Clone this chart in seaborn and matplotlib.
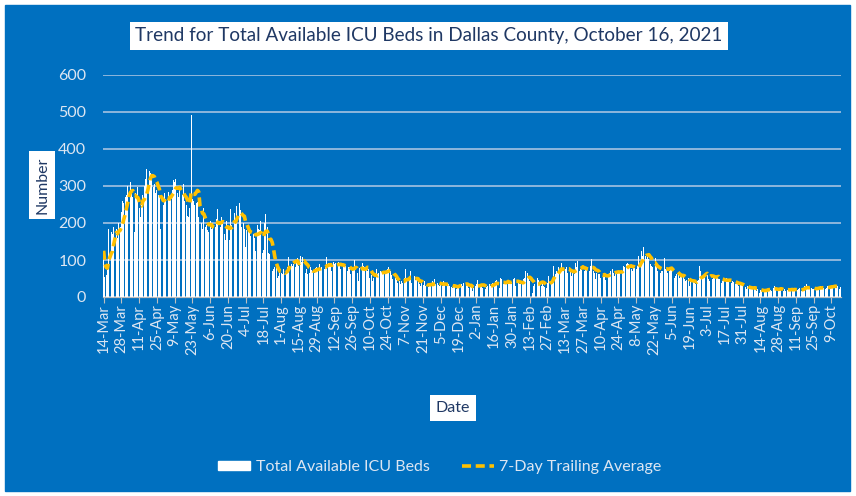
import pandas as pd
import seaborn as sns
import matplotlib.pyplot as plt
from matplotlib.patches import Rectangle, Patch
from matplotlib.lines import Line2D

start_date = "2020-03-14"
title = "Trend for Total Available ICU Beds in Dallas County, October 16, 2021"
bar_label = "Total Available ICU Beds"
avg_label = "7-Day Trailing Average"

# daily available ICU beds, one row = two weeks (row start date in comment)
icu_beds = [
    125, 55, 60, 72, 185, 150, 175, 170, 190, 165, 185, 160, 200, 190,  # 14-Mar-20
    230, 260, 255, 270, 275, 300, 305, 310, 285, 270, 175, 280, 265, 297,  # 28-Mar
    240, 215, 250, 275, 300, 320, 347, 330, 340, 335, 325, 296, 305, 280,  # 11-Apr
    290, 275, 270, 185, 275, 250, 280, 265, 260, 285, 270, 275, 290, 315,  # 25-Apr
    310, 320, 280, 270, 290, 242, 275, 305, 260, 250, 220, 216, 240, 491,  # 9-May
    265, 260, 250, 255, 256, 215, 222, 200, 185, 240, 190, 195, 180, 175,  # 23-May
    205, 185, 200, 190, 188, 210, 239, 180, 190, 215, 205, 170, 155, 205,  # 6-Jun
    190, 155, 239, 195, 210, 228, 200, 245, 220, 253, 235, 190, 200, 185,  # 20-Jun
    135, 180, 190, 175, 165, 190, 170, 160, 125, 195, 185, 180, 205, 120,  # 4-Jul
    128, 200, 225, 190, 120, 115, 110, 70, 75, 80, 85, 52, 58, 67,  # 18-Jul
    66, 63, 75, 70, 66, 80, 107, 134, 90, 84, 89, 80, 98, 105,  # 1-Aug
    84, 111, 95, 107, 89, 66, 75, 63, 66, 80, 72, 70, 66, 78,  # 15-Aug
    80, 75, 89, 75, 82, 84, 75, 80, 107, 92, 89, 84, 70, 95,  # 29-Aug
    89, 93, 88, 95, 84, 75, 84, 90, 80, 84, 71, 82, 80, 61,  # 12-Sep
    71, 80, 101, 85, 66, 43, 78, 80, 93, 84, 80, 76, 71, 75,  # 26-Sep
    52, 60, 43, 52, 57, 75, 61, 66, 71, 68, 61, 66, 71, 70,  # 10-Oct
    75, 80, 71, 60, 48, 34, 52, 45, 39, 43, 34, 42, 39, 52,  # 24-Oct
    75, 43, 45, 48, 71, 39, 43, 57, 45, 48, 43, 34, 30, 40,  # 7-Nov
    32, 43, 30, 25, 28, 34, 39, 43, 36, 48, 34, 39, 33, 30,  # 21-Nov
    34, 30, 43, 38, 34, 30, 34, 30, 28, 25, 30, 34, 21, 28,  # 5-Dec
    30, 43, 35, 30, 39, 34, 34, 30, 25, 28, 30, 16, 25, 30,  # 19-Dec
    34, 46, 30, 34, 28, 25, 30, 21, 28, 30, 34, 30, 35, 39,  # 2-Jan-21
    34, 43, 45, 30, 25, 52, 48, 34, 43, 39, 34, 45, 39, 43,  # 16-Jan
    40, 48, 52, 30, 45, 39, 34, 34, 39, 48, 52, 71, 66, 55,  # 30-Jan
    43, 21, 12, 30, 34, 48, 52, 45, 34, 30, 39, 30, 28, 25,  # 13-Feb
    39, 57, 48, 43, 52, 84, 62, 71, 66, 80, 75, 93, 75, 71,  # 27-Feb
    75, 80, 66, 75, 70, 57, 66, 61, 93, 80, 97, 71, 75, 72,  # 13-Mar
    84, 71, 80, 78, 75, 71, 84, 102, 70, 66, 48, 66, 62, 61,  # 27-Mar
    52, 57, 62, 66, 46, 57, 60, 66, 71, 75, 65, 57, 71, 66,  # 10-Apr
    71, 68, 75, 66, 84, 80, 88, 93, 88, 82, 75, 71, 80, 78,  # 24-Apr
    75, 84, 111, 95, 125, 111, 134, 110, 102, 116, 102, 90, 84, 80,  # 8-May
    71, 105, 80, 71, 75, 66, 70, 71, 105, 75, 72, 66, 71, 80,  # 22-May
    78, 75, 52, 57, 62, 66, 52, 57, 55, 61, 48, 43, 45, 52,  # 5-Jun
    30, 43, 48, 45, 39, 34, 43, 45, 84, 71, 57, 52, 57, 66,  # 19-Jun
    60, 48, 43, 75, 48, 55, 52, 57, 52, 50, 48, 39, 43, 45,  # 3-Jul
    43, 52, 48, 45, 43, 39, 43, 40, 34, 39, 34, 30, 39, 34,  # 17-Jul
    30, 25, 28, 21, 30, 21, 25, 25, 21, 30, 22, 16, 21, 12,  # 31-Jul
    18, 16, 21, 16, 20, 21, 25, 21, 18, 16, 25, 30, 21, 18,  # 14-Aug
    16, 21, 25, 22, 16, 21, 16, 18, 21, 21, 25, 20, 16, 21,  # 28-Aug
    16, 18, 21, 25, 16, 22, 25, 30, 34, 25, 23, 21, 25, 21,  # 11-Sep
    22, 25, 21, 25, 28, 30, 21, 25, 24, 21, 25, 30, 34, 28,  # 25-Sep
    30, 25, 28, 30, 25, 30, 21, 27,  # 9-Oct
]

BLUE = "#0070C0"
GOLD = "#FFC000"
LIGHT = "#DDE6F2"
NAVY = "#1F3864"

df = pd.DataFrame({"beds": icu_beds})
df["date"] = pd.date_range(start_date, periods=len(df), freq="D")
df["pos"] = range(len(df))
df["avg"] = df["beds"].rolling(7, min_periods=1).mean()

sns.set_theme(style="white")
plt.rcParams["font.family"] = ["Lato", "DejaVu Sans"]

fig = plt.figure(figsize=(8.56, 4.96), dpi=100, facecolor="white")
fig.patches.append(Rectangle((5 / 856, 5 / 496), 845 / 856, 486 / 496,
                             transform=fig.transFigure, color=BLUE, zorder=-10))
ax = fig.add_axes([103 / 856, 1 - 297 / 496, 738 / 856, 222 / 496])
ax.set_facecolor(BLUE)

sns.barplot(data=df, x="pos", y="beds", color="white", saturation=1,
            width=0.7, linewidth=0, errorbar=None, ax=ax, zorder=3)
sns.lineplot(data=df, x="pos", y="avg", color=GOLD, linewidth=2.6,
             linestyle=(0, (2.5, 1.3)), ax=ax, zorder=4)

ax.set_xlim(-0.5, len(df) - 0.5)
ax.set_ylim(0, 600)
ax.set_yticks(range(0, 601, 100))
ax.yaxis.grid(True, color="#B4C9E4", linewidth=1.1)
ax.set_axisbelow(True)

ticks = df["pos"][::14]
labels = [f"{d.day}-{d.strftime('%b')}" for d in df["date"][::14]]
ax.set_xticks(ticks)
ax.set_xticklabels(labels, rotation=90, fontsize=10.5, color=LIGHT)
ax.tick_params(axis="x", length=4, width=0.8, color="#BFBFBF", pad=1, bottom=True)
ax.tick_params(axis="y", length=0, pad=12, labelsize=11.5, labelcolor=LIGHT)
ax.set_xlabel("")
ax.set_ylabel("")

for side in ["top", "right", "left"]:
    ax.spines[side].set_visible(False)
ax.spines["bottom"].set_color("#BFBFBF")
ax.spines["bottom"].set_linewidth(0.9)

box = dict(facecolor="white", edgecolor="none", pad=4)
fig.text(429 / 856, 1 - 36 / 496, title, ha="center", va="center",
         fontsize=13.6, color=NAVY, bbox=box)
fig.text(42 / 856, 1 - 185 / 496, "Number", ha="center", va="center",
         rotation=90, fontsize=11.5, color=NAVY, bbox=box)
fig.text(453 / 856, 1 - 408 / 496, "Date", ha="center", va="center",
         fontsize=11.5, color=NAVY, bbox=box)

handles = [Patch(facecolor="white", edgecolor="white"),
           Line2D([], [], color=GOLD, linewidth=2.6, linestyle=(0, (2.5, 1.3)))]
fig.legend(handles, [bar_label, avg_label], loc="center",
           bbox_to_anchor=(440 / 856, 1 - 467 / 496), ncol=2, frameon=False,
           fontsize=11.5, labelcolor=LIGHT, handlelength=2.0, handleheight=0.5,
           handletextpad=0.35, columnspacing=2.0)

fig.savefig("out.png", dpi=100, facecolor="white")
